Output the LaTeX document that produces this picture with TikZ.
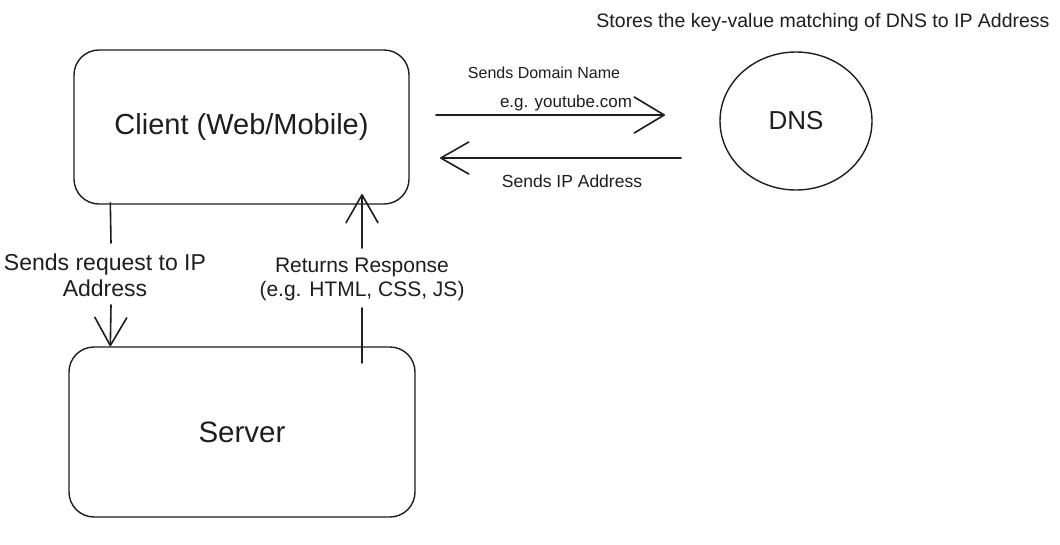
\documentclass[tikz,border=0pt]{standalone}
\usepackage{fontspec}
\setmainfont{Liberation Sans}
\usetikzlibrary{arrows.meta,shapes.geometric,calc}
\definecolor{ink}{HTML}{1E1E1E}
\begin{document}
\begin{tikzpicture}[x=1pt,y=-1pt,
  box/.style={draw=ink,line width=1.4pt,rounded corners=25pt,inner sep=0pt,text=ink},
  dnsnode/.style={draw=ink,line width=1.4pt,ellipse,inner sep=0pt,text=ink},
  conn/.style={draw=ink,line width=1.6pt,line cap=round},
  lbl/.style={text=ink,inner sep=0pt,align=center},
  tipA/.style={-{Straight Barb[length=30pt,width=36pt,line width=1.6pt,round]}},
  tipB/.style={-{Straight Barb[length=28pt,width=32pt,line width=1.6pt,round]}}
]
\useasboundingbox (0,0) rectangle (1060,544);
\fill[white] (0,0) rectangle (1060,544);

\node[box,minimum width=335pt,minimum height=154pt,font=\fontsize{29}{34}\selectfont] (client) at (241.5,127) {Client (Web/Mobile)};
\node[box,minimum width=346pt,minimum height=170pt,font=\fontsize{29.5}{34}\selectfont] (server) at (242,432) {Server};
\node[dnsnode,minimum width=152pt,minimum height=138pt,font=\fontsize{26}{30}\selectfont] (dns) at (796,121) {DNS};

\node[lbl,font=\fontsize{19.5}{22}\selectfont] (stores) at (823,22) {Stores the key-value matching of DNS to IP Address};
\node[lbl,font=\fontsize{16}{20}\selectfont] (sdn) at (544,73) {Sends Domain Name};
\node[lbl,font=\fontsize{17}{20}\selectfont] (yt) at (566,103) {e.g. youtube.com};
\node[lbl,font=\fontsize{17.5}{20}\selectfont] (sip) at (572,181) {Sends IP Address};
\node[lbl,font=\fontsize{23}{26}\selectfont] (req) at (105,275) {Sends request to IP\\Address};
\node[lbl,font=\fontsize{21}{24}\selectfont] (resp) at (362,279) {Returns Response\\(e.g. HTML, CSS, JS)};

% connector points
\coordinate (fwdA) at (436,115);
\coordinate (fwdB) at (665,115);
\coordinate (backA) at (681,158);
\coordinate (backB) at (440,158);
\coordinate (rq0) at ($(client.south west)+(37,-2)$);
\coordinate (rq1) at (111,243);
\coordinate (rq2) at (111,305);
\coordinate (rq3) at ($(server.north west)+(42,0)$);
\coordinate (rs0) at (362,363);
\coordinate (rs1) at (362,308);
\coordinate (rs2) at (362,248);
\coordinate (rs3) at (362,194);

\draw[conn,tipA] (fwdA) -- (fwdB);
\draw[conn,tipB] (backA) -- (backB);
\draw[conn] (rq0) -- (rq1);
\draw[conn,tipB] (rq2) -- (rq3);
\draw[conn] (rs0) -- (rs1);
\draw[conn,tipB] (rs2) -- (rs3);
\end{tikzpicture}
\end{document}
